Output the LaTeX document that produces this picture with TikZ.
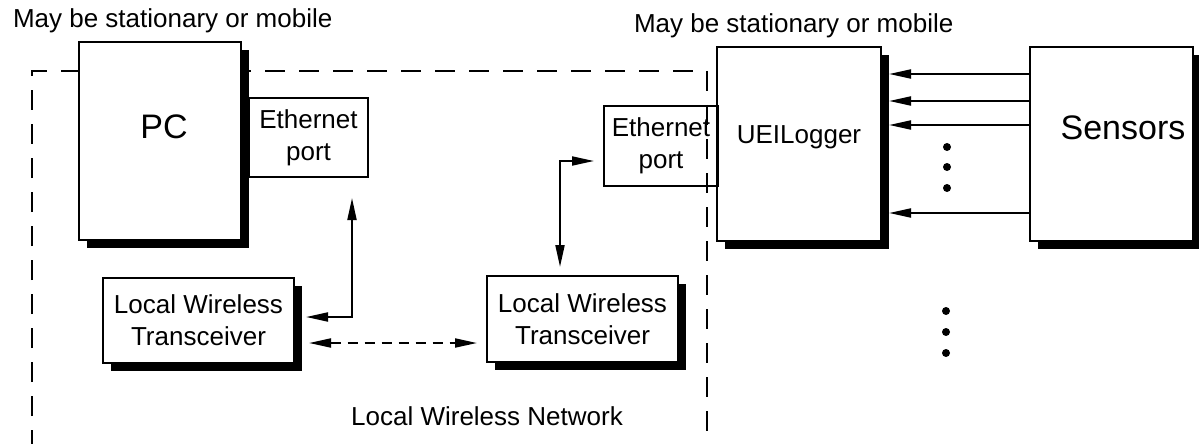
\documentclass[tikz,border=0pt]{standalone}
\usepackage{fontspec}
\setmainfont{Liberation Sans}
\usetikzlibrary{arrows.meta,shadows}

\begin{document}
\begin{tikzpicture}[>={Triangle[length=11pt,width=4.5pt]},x=0.5pt,y=-0.5pt,line width=1pt,
    box/.style={draw,rectangle,inner sep=0pt,align=center,font=\fontsize{13}{16}\selectfont},
    shadow box/.style={box,fill=white,drop shadow={shadow xshift=4pt,shadow yshift=-4pt,opacity=1,fill=black}},
    big text/.style={inner sep=0pt,font=\fontsize{17}{20}\selectfont},
    plain text/.style={inner sep=0pt,font=\fontsize{13}{16}\selectfont}]
    \useasboundingbox (0,0) rectangle (1199,444);
    % network boundary
    \draw[dash pattern=on 10pt off 7pt] (32,450) |- (707,71) -- (707,450);
    \node[plain text,anchor=base west] (titleleft) at (12,28) {May be stationary or mobile};
    \node[plain text,anchor=base west] (titleright) at (633,33) {May be stationary or mobile};
    \node[shadow box,minimum width=81pt,minimum height=99pt] (pc) at (160,141) {};
    \node[big text] (pclabel) at ([xshift=2pt,yshift=7pt]pc.center) {PC};
    \node[box,minimum width=59.5pt,minimum height=39.5pt] (eth1) at (308.5,137.5) {Ethernet\\port};
    \node[shadow box,minimum width=95.5pt,minimum height=42.5pt] (lwt1) at (198.5,320.5) {Local Wireless\\Transceiver};
    \node[shadow box,minimum width=95.5pt,minimum height=43pt] (lwt2) at (582.5,319) {Local Wireless\\Transceiver};
    \node[shadow box,minimum width=82pt,minimum height=97pt] (uei) at (799,144) {};
    \node[plain text] (ueilabel) at ([yshift=3.5pt]uei.center) {UEILogger};
    \node[box,minimum width=57pt,minimum height=40pt] (eth2) at (661,146) {Ethernet\\port};
    \node[shadow box,minimum width=81.5pt,minimum height=97pt] (sensors) at (1111.5,144) {};
    \node[big text] (sensorslabel) at ([xshift=5.75pt,yshift=8pt]sensors.center) {Sensors};
    % links
    \draw[<->,shorten <=10pt,shorten >=5.5pt] ([xshift=-8.5pt]eth1.south east) |- ([yshift=1.75pt]lwt1.east);
    \draw[<->,dash pattern=on 5pt off 3.5pt,shorten <=7pt,shorten >=4.5pt] ([yshift=-11.25pt]lwt1.east) -- ([yshift=-11.25pt]lwt1.east -| lwt2.west);
    \draw[<->,shorten <=4pt,shorten >=4.5pt] ([xshift=-11.25pt]lwt2.north) |- ([yshift=-7.5pt]eth2.west);
    \foreach \dy in {35,21.5,9.5,-34.5}
      \draw[->,shorten >=3.5pt] ([yshift=\dy pt]sensors.west) -- ([yshift=\dy pt]uei.east);
    \foreach \y in {147,167,188}
      \fill (947,\y) circle (2pt);
    \foreach \y in {311,332,353}
      \fill (946,\y) circle (2pt);
    \node[plain text,anchor=base] (netlabel) at (487,425) {Local Wireless Network};
\end{tikzpicture}
\end{document}
